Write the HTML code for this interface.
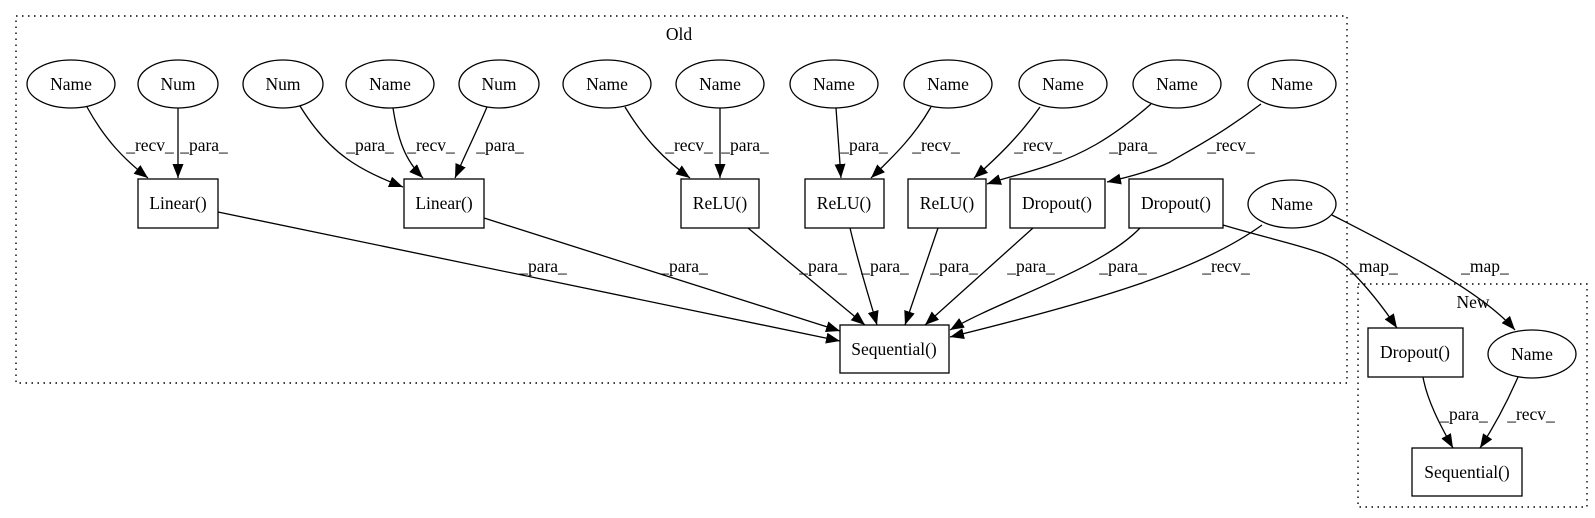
<!DOCTYPE html>
<html><head><meta charset="utf-8"><style>
html,body{margin:0;padding:0;background:#fff;width:1595px;height:518px;overflow:hidden}
svg text{font-family:"Liberation Serif",serif;font-size:17.5px;fill:#000}
</style></head><body>
<svg width="1595" height="518" viewBox="0 0 1595 518" xmlns="http://www.w3.org/2000/svg">
<defs><marker id="a" markerUnits="userSpaceOnUse" markerWidth="15" markerHeight="11" refX="14" refY="5.5" orient="auto"><path d="M0,0 L14,5.5 L0,11 z" fill="#000"/></marker></defs>
<g fill="none" stroke="#000" stroke-width="1.4" stroke-dasharray="1.5,4.5">
<rect x="16" y="16" width="1331" height="367"/>
<rect x="1358" y="284" width="229" height="223"/>
</g>
<text x="679" y="40" text-anchor="middle">Old</text>
<text x="1473" y="308" text-anchor="middle">New</text>
<g fill="#fff" stroke="#000" stroke-width="1.3">
<ellipse cx="71" cy="84" rx="44" ry="24"/><ellipse cx="178" cy="84" rx="40" ry="24"/>
<ellipse cx="283" cy="84" rx="40" ry="24"/><ellipse cx="390" cy="84" rx="44" ry="24"/>
<ellipse cx="499" cy="84" rx="40" ry="24"/><ellipse cx="607" cy="84" rx="44" ry="24"/>
<ellipse cx="720" cy="84" rx="44" ry="24"/><ellipse cx="834" cy="84" rx="44" ry="24"/>
<ellipse cx="948" cy="84" rx="44" ry="24"/><ellipse cx="1063" cy="84" rx="44" ry="24"/>
<ellipse cx="1177" cy="84" rx="44" ry="24"/><ellipse cx="1292" cy="84" rx="44" ry="24"/>
<ellipse cx="1292" cy="204" rx="44" ry="24"/><ellipse cx="1532" cy="354" rx="44" ry="24"/>
<rect x="138" y="179" width="80" height="49"/><rect x="404" y="179" width="80" height="49"/>
<rect x="681" y="179" width="78" height="49"/><rect x="805" y="179" width="79" height="49"/>
<rect x="908" y="179" width="78" height="49"/><rect x="1010" y="179" width="95" height="49"/>
<rect x="1129" y="179" width="94" height="49"/><rect x="840" y="325" width="109" height="48"/>
<rect x="1368" y="328" width="95" height="49"/><rect x="1412" y="448" width="110" height="48"/>
</g>
<g text-anchor="middle">
<text x="71" y="90">Name</text><text x="178" y="90">Num</text><text x="283" y="90">Num</text>
<text x="390" y="90">Name</text><text x="499" y="90">Num</text><text x="607" y="90">Name</text>
<text x="720" y="90">Name</text><text x="834" y="90">Name</text><text x="948" y="90">Name</text>
<text x="1063" y="90">Name</text><text x="1177" y="90">Name</text><text x="1292" y="90">Name</text>
<text x="1292" y="210">Name</text><text x="1532" y="360">Name</text>
<text x="178" y="209">Linear()</text><text x="444" y="209">Linear()</text>
<text x="720" y="209">ReLU()</text><text x="844" y="209">ReLU()</text><text x="947" y="209">ReLU()</text>
<text x="1057" y="209">Dropout()</text><text x="1176" y="209">Dropout()</text>
<text x="894" y="355">Sequential()</text><text x="1415" y="358">Dropout()</text>
<text x="1467" y="478">Sequential()</text>
</g>
<g fill="none" stroke="#000" stroke-width="1.3" marker-end="url(#a)">
<path d="M87,107 C105,140 125,160 148,178"/>
<path d="M178,108 L178,178"/>
<path d="M300,106 C330,155 360,170 403,187"/>
<path d="M393,108 C398,140 405,160 423,178"/>
<path d="M487,107 C475,135 465,155 455,178"/>
<path d="M625,107 C645,140 665,160 690,178"/>
<path d="M720,108 L720,178"/>
<path d="M836,108 L841,178"/>
<path d="M931,107 C915,135 895,155 871,178"/>
<path d="M1040,107 C1020,135 1000,155 974,178"/>
<path d="M1151,104 C1110,140 1080,155 1050,165 C1030,172 1005,178 987,184"/>
<path d="M1261,104 C1220,135 1190,150 1170,162 C1150,172 1125,178 1107,182"/>
<path d="M218,212 L840,341"/>
<path d="M484,218 L840,331"/>
<path d="M748,228 L865,325"/>
<path d="M850,228 C860,270 870,300 877,325"/>
<path d="M938,228 L905,325"/>
<path d="M1033,228 L925,325"/>
<path d="M1140,228 C1100,270 1000,300 950,330"/>
<path d="M1262,225 C1200,270 1100,300 950,337"/>
<path d="M1223,225 C1290,245 1330,250 1350,270 C1370,290 1385,310 1397,328"/>
<path d="M1332,215 C1400,250 1480,290 1515,330"/>
<path d="M1423,377 C1427,400 1440,425 1453,448"/>
<path d="M1518,377 C1508,400 1495,425 1480,448"/>
</g>
<g text-anchor="middle">
<text x="150" y="151">_recv_</text><text x="204" y="151">_para_</text>
<text x="370" y="151">_para_</text><text x="431" y="151">_recv_</text><text x="500" y="151">_para_</text>
<text x="689" y="151">_recv_</text><text x="745" y="151">_para_</text>
<text x="864" y="151">_para_</text><text x="936" y="151">_recv_</text><text x="1038" y="151">_recv_</text>
<text x="1133" y="151">_para_</text><text x="1231" y="151">_recv_</text>
<text x="543" y="272">_para_</text><text x="684" y="272">_para_</text>
<text x="823" y="272">_para_</text><text x="885" y="272">_para_</text><text x="954" y="272">_para_</text>
<text x="1031" y="272">_para_</text><text x="1123" y="272">_para_</text><text x="1226" y="272">_recv_</text>
<text x="1374" y="272">_map_</text><text x="1485" y="272">_map_</text>
<text x="1464" y="420">_para_</text><text x="1531" y="420">_recv_</text>
</g>
</svg>
</body></html>
